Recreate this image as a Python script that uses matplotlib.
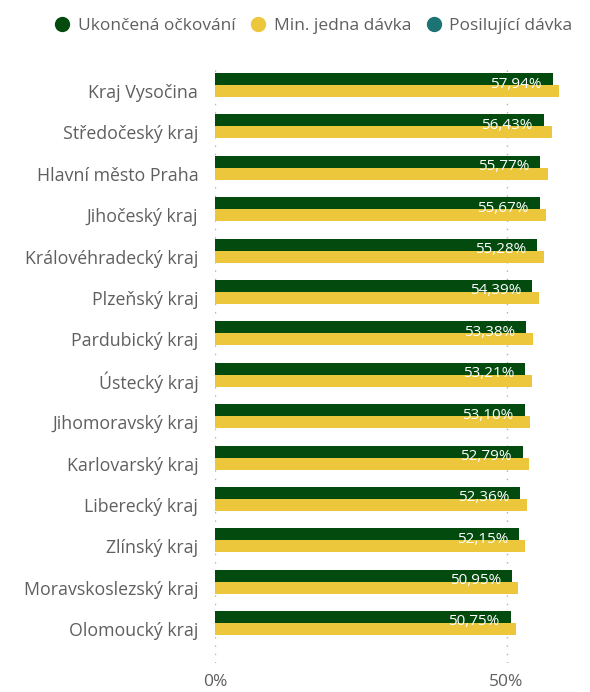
import numpy as np
import matplotlib
matplotlib.use("Agg")
import matplotlib.pyplot as plt
from matplotlib.lines import Line2D

plt.rcParams["font.family"] = ["Open Sans", "DejaVu Sans"]

regions = ["Kraj Vysočina", "Středočeský kraj", "Hlavní město Praha", "Jihočeský kraj",
           "Královéhradecký kraj", "Plzeňský kraj", "Pardubický kraj", "Ústecký kraj",
           "Jihomoravský kraj", "Karlovarský kraj", "Liberecký kraj", "Zlínský kraj",
           "Moravskoslezský kraj", "Olomoucký kraj"]
completed = [57.94, 56.43, 55.77, 55.67, 55.28, 54.39, 53.38, 53.21, 53.10, 52.79,
             52.36, 52.15, 50.95, 50.75]
one_dose = [59.0, 57.8, 57.1, 56.7, 56.5, 55.5, 54.5, 54.4, 54.1, 53.8,
            53.6, 53.1, 52.0, 51.7]
booster = [0] * 14
series_names = ["Ukončená očkování", "Min. jedna dávka", "Posilující dávka"]

C_GREEN = "#024a0e"
C_YELLOW = "#ecc63b"
C_TEAL = "#1b7373"
C_TEXT = "#5f5f5f"

fig = plt.figure(figsize=(5.9, 6.92), dpi=100)
ax = fig.add_axes([0.3644, 0.042, 0.983 - 0.3644, 0.864])

y = np.arange(len(regions))
h = 0.29
ax.barh(y - h, completed, height=h, color=C_GREEN, zorder=3)
ax.barh(y, one_dose, height=h, color=C_YELLOW, zorder=3)
ax.barh(y + h, booster, height=h, color=C_TEAL, zorder=3)

for yi, v in zip(y, completed):
    ax.text(v - 1.9, yi - h + 0.12, f"{v:.2f}%".replace(".", ","), color="white",
            ha="right", va="center", fontsize=11, zorder=4)

ax.set_xlim(0, 62.6)
ax.set_ylim(13 + 0.82, -0.63)
ax.set_yticks(y)
ax.set_yticklabels(regions, fontsize=12.8, color=C_TEXT)
ax.set_xticks([0, 50])
ax.set_xticklabels(["0%", "50%"], fontsize=12.5, color=C_TEXT)
ax.tick_params(length=0, axis="y", pad=12)
ax.tick_params(length=0, axis="x", pad=8)
ax.grid(axis="x", linestyle=(0, (1, 5)), color="#b0b0b0", linewidth=1, zorder=0)
for s in ax.spines.values():
    s.set_visible(False)

handles = [Line2D([], [], marker="o", linestyle="", markersize=10, color=c)
           for c in (C_GREEN, C_YELLOW, C_TEAL)]
fig.legend(handles, series_names, loc="center right", bbox_to_anchor=(0.985, 0.963),
           ncol=3, frameon=False, fontsize=12.5, labelcolor=C_TEXT, handletextpad=-0.1,
           columnspacing=0.3, borderpad=0)

fig.savefig("out.png", dpi=100)
